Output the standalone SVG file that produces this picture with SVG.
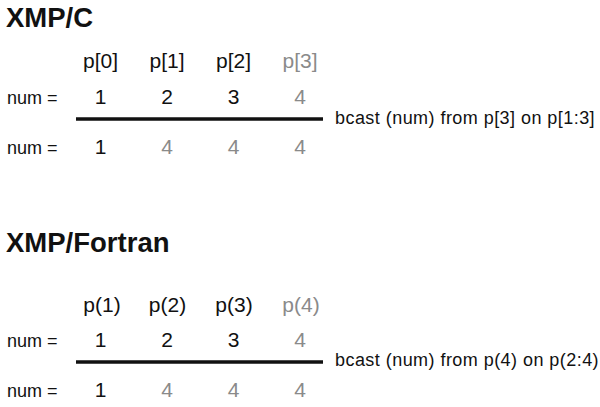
<svg xmlns="http://www.w3.org/2000/svg" width="600" height="407" viewBox="0 0 600 407">
<style>
text{font-family:"Liberation Sans",Arial,sans-serif;fill:#111}
.title{font-size:27.5px;font-weight:bold}
.p{font-size:21px;text-anchor:middle}
.v{font-size:21px;text-anchor:middle}
.lab{font-size:18px}
.cap{font-size:18px;letter-spacing:0.45px}
.g{fill:#8a8a8a}
.rule{stroke:#111;stroke-width:3.5}
</style>
<rect width="600" height="407" fill="#fff"/>
<g id="xmp-c">
<text class="title" x="6" y="27">XMP/C</text>
<text class="p" x="100.5" y="68">p[0]</text>
<text class="p" x="167" y="68">p[1]</text>
<text class="p" x="233.5" y="68">p[2]</text>
<text class="p g" x="300" y="68">p[3]</text>
<text class="lab" x="7" y="104">num =</text>
<text class="v" x="100.5" y="104">1</text>
<text class="v" x="167" y="104">2</text>
<text class="v" x="233.5" y="104">3</text>
<text class="v g" x="300" y="104">4</text>
<text class="lab" x="7" y="154">num =</text>
<text class="v" x="100.5" y="154">1</text>
<text class="v g" x="167" y="154">4</text>
<text class="v g" x="233.5" y="154">4</text>
<text class="v g" x="300" y="154">4</text>
<text class="cap" x="335" y="124">bcast (num) from p[3] on p[1:3]</text>
</g>
<g id="xmp-fortran">
<text class="title" x="6" y="252">XMP/Fortran</text>
<text class="p" x="102" y="312">p(1)</text>
<text class="p" x="167.5" y="312">p(2)</text>
<text class="p" x="234" y="312">p(3)</text>
<text class="p g" x="301" y="312">p(4)</text>
<text class="lab" x="7" y="347">num =</text>
<text class="v" x="100.5" y="347">1</text>
<text class="v" x="167" y="347">2</text>
<text class="v" x="233.5" y="347">3</text>
<text class="v g" x="300" y="347">4</text>
<text class="lab" x="7" y="397">num =</text>
<text class="v" x="100.5" y="397">1</text>
<text class="v g" x="167" y="397">4</text>
<text class="v g" x="233.5" y="397">4</text>
<text class="v g" x="300" y="397">4</text>
<text class="cap" x="335" y="366">bcast (num) from p(4) on p(2:4)</text>
</g>
<g id="connectors">
<line class="rule" x1="76" y1="119" x2="323" y2="119"/>
<line class="rule" x1="76" y1="362" x2="323" y2="362"/>
</g>
</svg>
